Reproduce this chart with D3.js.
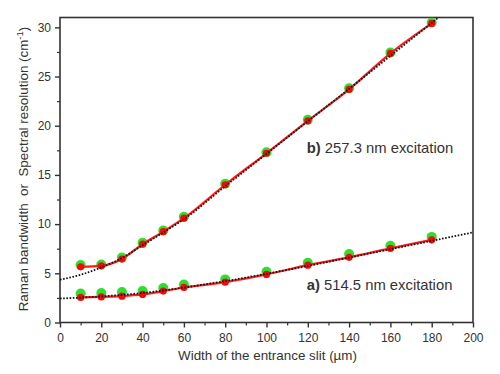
<!DOCTYPE html>
<html>
<head>
<meta charset="utf-8">
<script src="https://cdn.jsdelivr.net/npm/d3@7"></script>
<style>
  html, body { margin: 0; padding: 0; background: #fff; }
  svg { display: block; font-family: "Liberation Sans", Arial, sans-serif; }
  .tick text { fill: #333; font-size: 12px; }
</style>
</head>
<body>
<div id="chart"></div>
<script>
// slit widths (µm) where the bandwidth was measured
const slit = [10, 20, 30, 40, 50, 60, 80, 100, 120, 140, 160, 180];

// b) 257.3 nm excitation
const measB = [5.85, 5.9, 6.6, 8.1, 9.35, 10.75, 14.1, 17.3, 20.6, 23.8, 27.45, 30.5];
const calcB = [5.66, 5.76, 6.45, 7.97, 9.23, 10.6, 14.0, 17.2, 20.5, 23.7, 27.35, 30.4];

// a) 514.5 nm excitation
const measA = [2.95, 3.0, 3.1, 3.2, 3.5, 3.87, 4.38, 5.15, 6.07, 6.95, 7.8, 8.7];
const calcA = [2.55, 2.6, 2.68, 2.85, 3.19, 3.56, 4.1, 4.89, 5.83, 6.62, 7.53, 8.4];

// dotted fit curves
const fitAX = [0, 20, 40, 60, 80, 100, 120, 140, 160, 180, 200];
const fitA = [2.44, 2.65, 3.0, 3.55, 4.2, 4.95, 5.75, 6.6, 7.45, 8.3, 9.16];
const fitBX = [0, 10, 20, 30, 40, 50, 60, 80, 100, 120, 140, 160, 180, 185];
const fitB = [4.35, 4.85, 5.6, 6.55, 7.85, 9.15, 10.5, 13.85, 17.15, 20.45, 23.75, 27.1, 30.45, 31.3];

const xTicks = [0, 20, 40, 60, 80, 100, 120, 140, 160, 180, 200];
const yTicks = [0, 5, 10, 15, 20, 25, 30];

const W = 500, H = 374;
const M = { top: 17.5, right: 27, bottom: 51.5, left: 60 };
const iw = W - M.left - M.right, ih = H - M.top - M.bottom;

const svg = d3.select('#chart').append('svg').attr('width', W).attr('height', H);
const defs = svg.append('defs');
defs.append('clipPath').attr('id', 'clip')
  .append('rect').attr('width', iw).attr('height', ih);
defs.append('filter').attr('id', 'soft')
  .append('feGaussianBlur').attr('stdDeviation', 0.7);

const g = svg.append('g').attr('transform', `translate(${M.left},${M.top})`);

const x = d3.scaleLinear().domain([0, 200]).range([0, iw]);
const y = d3.scaleLinear().domain([0, 31]).range([ih, 0]);

// minor ticks first, then major
g.append('g').attr('transform', `translate(0,${ih})`)
  .call(d3.axisBottom(x).tickValues(d3.range(10, 200, 20)).tickSize(3).tickFormat(''))
  .call(a => a.select('.domain').remove())
  .selectAll('line').attr('stroke', '#333').attr('stroke-width', 1.2);
g.append('g')
  .call(d3.axisLeft(y).tickValues(d3.range(2.5, 31, 5)).tickSize(3).tickFormat(''))
  .call(a => a.select('.domain').remove())
  .selectAll('line').attr('stroke', '#333').attr('stroke-width', 1.2);

const xa = g.append('g').attr('transform', `translate(0,${ih})`)
  .call(d3.axisBottom(x).tickValues(xTicks).tickSize(5).tickPadding(6));
const ya = g.append('g')
  .call(d3.axisLeft(y).tickValues(yTicks).tickSize(5).tickPadding(4));
[xa, ya].forEach(a => {
  a.select('.domain').remove();
  a.selectAll('line').attr('stroke', '#333').attr('stroke-width', 1.4);
  a.selectAll('text').attr('fill', '#333').style('font-size', '12px');
});

// frame
g.append('rect').attr('width', iw).attr('height', ih)
  .attr('fill', 'none').attr('stroke', '#333').attr('stroke-width', 1.6);

const plot = g.append('g').attr('clip-path', 'url(#clip)');

const line = (xs, ys, curve) => d3.line()
  .curve(curve)
  .x((_, i) => x(xs[i]))
  .y(d => y(d))(ys);

// measured points (green)
[measA, measB].forEach(vals => {
  plot.append('g').attr('filter', 'url(#soft)')
    .selectAll('circle').data(vals).join('circle')
    .attr('cx', (_, i) => x(slit[i])).attr('cy', d => y(d))
    .attr('r', 5).attr('fill', '#2ee02e');
});

// calculated curves + points (red)
[calcA, calcB].forEach(vals => {
  plot.append('path')
    .attr('d', line(slit, vals, d3.curveMonotoneX))
    .attr('fill', 'none').attr('stroke', '#ff1c1c').attr('stroke-width', 2.2);
  plot.append('g')
    .selectAll('circle').data(vals).join('circle')
    .attr('cx', (_, i) => x(slit[i])).attr('cy', d => y(d))
    .attr('r', 3.6).attr('fill', '#f00a0a');
});

// dotted fits
[[fitAX, fitA], [fitBX, fitB]].forEach(([xs, ys]) => {
  plot.append('path')
    .attr('d', line(xs, ys, d3.curveMonotoneX))
    .attr('fill', 'none').attr('stroke', '#111')
    .attr('stroke-width', 1.8).attr('stroke-dasharray', '1.6 1.6');
});

// series labels
const lab = (tx, ty, tag, rest) => {
  const t = g.append('text').attr('x', x(tx)).attr('y', y(ty))
    .attr('fill', '#333').style('font-size', '14.8px');
  t.append('tspan').style('font-weight', 'bold').text(tag);
  t.append('tspan').text(rest);
};
lab(119.5, 17.2, 'b)', ' 257.3 nm excitation');
lab(119.5, 3.3, 'a)', ' 514.5 nm excitation');

// axis titles
svg.append('text')
  .attr('x', M.left + iw / 2 + 1).attr('y', 360)
  .attr('text-anchor', 'middle').attr('fill', '#333').style('font-size', '13.4px')
  .text('Width of the entrance slit (µm)');

const yt = svg.append('text')
  .attr('transform', `translate(28,${M.top + ih / 2 - 1}) rotate(-90)`)
  .attr('text-anchor', 'middle').attr('fill', '#333').style('font-size', '13.4px')
  .style('white-space', 'pre');
yt.append('tspan').text('Raman bandwidth  or  Spectral resolution (cm');
yt.append('tspan').attr('dy', -5).style('font-size', '9.5px').text('-1');
yt.append('tspan').attr('dy', 5).text(')');
</script>
</body>
</html>
